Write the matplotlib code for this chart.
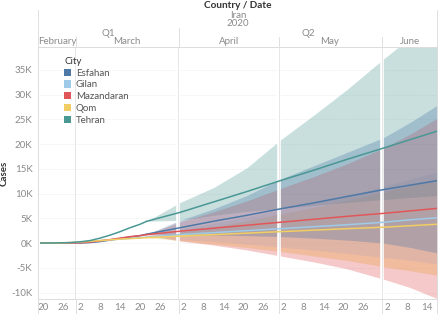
import numpy as np
import matplotlib
matplotlib.use("Agg")
import matplotlib.pyplot as plt
import matplotlib.dates as mdates
from matplotlib.lines import Line2D
from matplotlib.patches import Patch
import datetime as dt

plt.rcParams['font.family'] = ['Lato', 'DejaVu Sans']

cities = ["Esfahan", "Gilan", "Mazandaran", "Qom", "Tehran"]
colors = ["#4e79a7", "#a0cbe8", "#e15759", "#f1ce63", "#499894"]

# Actual cumulative cases (thousands)
actual_dates = ["2020-02-19", "2020-02-24", "2020-02-28", "2020-03-02", "2020-03-05",
                "2020-03-08", "2020-03-11", "2020-03-14", "2020-03-17", "2020-03-20", "2020-03-22"]
actual_esfahan    = [0, 0, 0, 0.02, 0.1, 0.3, 0.6, 0.9, 1.2, 1.5, 1.8]
actual_gilan      = [0, 0, 0.05, 0.15, 0.3, 0.5, 0.65, 0.8, 0.95, 1.1, 1.2]
actual_mazandaran = [0, 0, 0.01, 0.05, 0.2, 0.45, 0.7, 1.0, 1.3, 1.5, 1.7]
actual_qom        = [0, 0, 0.1, 0.2, 0.35, 0.5, 0.65, 0.8, 0.9, 1.0, 1.1]
actual_tehran     = [0, 0.02, 0.1, 0.25, 0.5, 1.0, 1.6, 2.3, 3.1, 3.8, 4.4]

# Forecast (thousands) with prediction interval
forecast_dates = ["2020-03-22", "2020-04-01", "2020-04-11", "2020-04-21", "2020-05-01",
                  "2020-05-11", "2020-05-21", "2020-06-01", "2020-06-09", "2020-06-17"]
fc_esfahan    = [1.8, 3.1, 4.4, 5.6, 6.9, 8.1, 9.4, 10.8, 11.7, 12.6]
hi_esfahan    = [1.8, 4.6, 6.9, 9.6, 12.9, 15.6, 18.3, 21.3, 24.4, 27.8]
lo_esfahan    = [1.8, 1.7, 1.6, 1.5, 1.3, 1.0, 0.6, 0.0, -0.9, -2.0]
fc_gilan      = [1.2, 1.7, 2.1, 2.5, 2.9, 3.3, 3.7, 4.2, 4.7, 5.1]
hi_gilan      = [1.2, 2.8, 4.0, 5.3, 6.7, 8.1, 9.6, 11.4, 12.9, 14.4]
lo_gilan      = [1.2, 0.7, 0.3, -0.2, -0.8, -1.4, -2.1, -2.9, -3.5, -4.2]
fc_mazandaran = [1.7, 2.4, 3.0, 3.6, 4.2, 4.8, 5.4, 6.0, 6.5, 7.0]
hi_mazandaran = [1.7, 4.3, 6.3, 8.5, 11.0, 13.4, 16.0, 19.2, 22.0, 25.2]
lo_mazandaran = [1.7, 0.4, -0.4, -1.4, -2.6, -3.8, -5.2, -7.3, -9.0, -11.2]
fc_qom        = [1.1, 1.4, 1.7, 2.0, 2.3, 2.6, 2.9, 3.2, 3.5, 3.8]
hi_qom        = [1.1, 2.2, 3.3, 4.5, 5.9, 7.2, 8.6, 10.3, 11.6, 13.0]
lo_qom        = [1.1, 0.5, -0.2, -0.9, -1.7, -2.6, -3.5, -4.8, -5.6, -6.5]
fc_tehran     = [4.4, 6.2, 8.3, 10.4, 12.6, 14.7, 16.9, 19.2, 20.9, 22.6]
hi_tehran     = [4.4, 8.2, 11.2, 15.2, 20.8, 25.8, 31.0, 37.2, 41.5, 46.0]
lo_tehran     = [4.4, 4.6, 5.6, 6.4, 7.0, 7.6, 8.2, 8.8, 9.2, 9.6]

y_ticks = [-10, -5, 0, 5, 10, 15, 20, 25, 30, 35]
y_tick_labels = ["-10K", "-5K", "0K", "5K", "10K", "15K", "20K", "25K", "30K", "35K"]
x_tick_dates = ["2020-02-20", "2020-02-26",
                "2020-03-02", "2020-03-08", "2020-03-14", "2020-03-20", "2020-03-26",
                "2020-04-02", "2020-04-08", "2020-04-14", "2020-04-20", "2020-04-26",
                "2020-05-02", "2020-05-08", "2020-05-14", "2020-05-20", "2020-05-26",
                "2020-06-02", "2020-06-08", "2020-06-14"]
months = ["February", "March", "April", "May", "June"]

actuals = [actual_esfahan, actual_gilan, actual_mazandaran, actual_qom, actual_tehran]
fcs = [fc_esfahan, fc_gilan, fc_mazandaran, fc_qom, fc_tehran]
his = [hi_esfahan, hi_gilan, hi_mazandaran, hi_qom, hi_tehran]
los = [lo_esfahan, lo_gilan, lo_mazandaran, lo_qom, lo_tehran]

def d2n(s):
    return mdates.date2num(dt.datetime.strptime(s, "%Y-%m-%d"))

ax_dates = np.array([d2n(s) for s in actual_dates])
fc_x = np.array([d2n(s) for s in forecast_dates])

W, H = 440, 314
fig = plt.figure(figsize=(W / 100, H / 100), dpi=100)
L, R, T, B = 38, 437, 47, 299
ax = fig.add_axes([L / W, 1 - B / H, (R - L) / W, (B - T) / H])

x0 = d2n("2020-02-19") - 0.6
x1 = d2n("2020-06-17")
ax.set_xlim(x0, x1)
ax.set_ylim(-11.3, 39.6)

# bands (drawn bottom to top)
order = [3, 1, 4, 2, 0]
alphas = {0: 0.32, 1: 0.28, 2: 0.32, 3: 0.4, 4: 0.3}
for i in order:
    ax.fill_between(fc_x, los[i], his[i], color=colors[i], alpha=alphas[i], lw=0, zorder=1)

# pane separators
bounds = [d2n("2020-03-01") - 0.5, d2n("2020-04-01") - 0.5, d2n("2020-05-01") - 0.5,
          d2n("2020-06-01") - 0.5]
for k, b in enumerate(bounds):
    if k > 0:
        ax.axvline(b, color="white", lw=2.6, zorder=2)
    ax.axvline(b, color="#e3e3e3", lw=0.6, zorder=2.1)

for i in range(5):
    ax.plot(ax_dates, actuals[i], color=colors[i], lw=1.1, zorder=3, solid_capstyle='butt')
    ax.plot(fc_x, fcs[i], color=colors[i], lw=1.1, zorder=3)

ax.set_yticks(y_ticks)
ax.set_yticklabels(y_tick_labels)
ax.set_xticks([d2n(s) for s in x_tick_dates])
ax.set_xticklabels([str(int(s[-2:])) for s in x_tick_dates])
ax.tick_params(axis='both', length=0, labelsize=7, colors="#8a8a8a", pad=4)
ax.tick_params(axis='x', pad=3)
ax.grid(axis='y', color="#ececec", lw=0.6, ls=(0, (1, 1)))
ax.set_axisbelow(True)
for s in ax.spines.values():
    s.set_color("#dcdcdc")
    s.set_linewidth(0.7)
ax.set_ylabel("Cases", fontsize=7, color="#333333", fontweight='bold')
ax.yaxis.set_label_coords((9 - L) / (R - L), (B - 173) / (B - T))

# legend
handles = [Patch(facecolor=c, edgecolor='none') for c in colors]
leg = ax.legend(handles, cities, title="City", loc='upper left',
                bbox_to_anchor=((64 - L) / (R - L), 1 - (57 - T) / (B - T)),
                frameon=False, fontsize=7, title_fontsize=7,
                handlelength=0.75, handleheight=0.75, handletextpad=0.45,
                labelspacing=0.28, borderpad=0, borderaxespad=0, alignment='left')
for t in leg.get_texts():
    t.set_color("#555555")
leg.get_title().set_color("#333333")

# header
def fx(px):
    return px / W

def fy(py):
    return 1 - py / H

fig.text(fx(238), fy(6), "Country / Date", ha='center', va='center', fontsize=7.2,
         fontweight='bold', color="#333333")
fig.text(fx(238), fy(15), "Iran", ha='center', va='center', fontsize=7, color="#8a8a8a")
fig.text(fx(238), fy(24), "2020", ha='center', va='center', fontsize=7, color="#8a8a8a")
fig.text(fx(108), fy(33), "Q1", ha='center', va='center', fontsize=7, color="#8a8a8a")
fig.text(fx(308), fy(33), "Q2", ha='center', va='center', fontsize=7, color="#8a8a8a")
month_px = [57, 127, 229, 330, 410]
for m, p in zip(months, month_px):
    fig.text(fx(p), fy(42), m, ha='center', va='center', fontsize=7, color="#8a8a8a")

def fline(xa, ya, xb, yb, c="#e0e0e0", lw=0.7):
    fig.add_artist(Line2D([fx(xa), fx(xb)], [fy(ya), fy(yb)], color=c, lw=lw))

fline(L, 10, L, T)
fline(R, 10, R, T)
fline(178.5, 28, 178.5, T)
for p in [75.5, 278.5, 382]:
    fline(p, 37, p, T)
for p in [75.5, 178.5, 278.5, 382]:
    fline(p, B, p, H)
fline(L, B, L, H)
fline(R, B, R, H)

fig.savefig("out.png", dpi=100)
